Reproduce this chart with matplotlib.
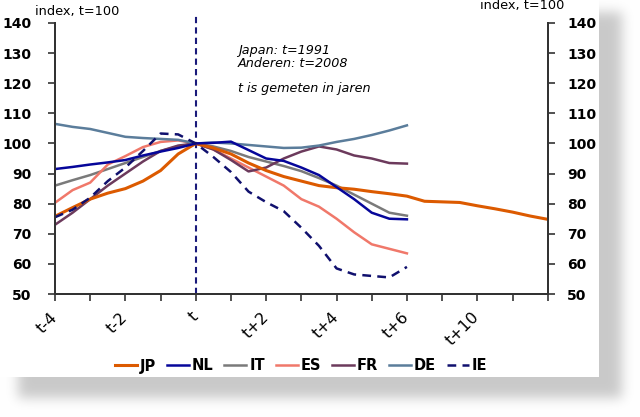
import numpy as np
import matplotlib
matplotlib.use("Agg")
import matplotlib.pyplot as plt
import matplotlib.transforms as mtransforms

# ---- data (x in years relative to t) ----
x_half = [-4, -3.5, -3, -2.5, -2, -1.5, -1, -0.5, 0, 0.5, 1, 1.5, 2, 2.5, 3, 3.5, 4, 4.5, 5, 5.5, 6]
x_jp = x_half + [6.5, 7, 7.5, 8, 8.5, 9, 9.5, 10]

jp = [75.8, 78.7, 81.5, 83.5, 85.0, 87.5, 91.0, 96.5, 100, 98.5, 96.5, 93.5, 91.0, 89.0, 87.5, 86.0,
      85.3, 84.8, 84.0, 83.3, 82.5, 80.8, 80.6, 80.4, 79.3, 78.3, 77.2, 75.9, 74.8]
nl = [91.5, 92.2, 93.0, 93.7, 94.5, 96.0, 97.3, 98.5, 100, 100.2, 100.6, 97.8, 95.0, 94.2, 92.0, 89.5,
      85.5, 81.5, 77.0, 75.0, 74.8]
it = [86.0, 87.8, 89.5, 91.5, 93.5, 95.5, 97.5, 99.0, 100, 99.0, 97.5, 95.5, 94.0, 92.5, 90.8, 88.5,
      86.0, 83.0, 80.0, 77.0, 76.0]
es = [80.3, 84.5, 87.0, 93.0, 95.8, 98.8, 100.5, 101.0, 100, 98.0, 95.0, 92.0, 89.0, 86.0, 81.5, 79.0,
      75.0, 70.5, 66.5, 65.0, 63.5]
fr = [73.0, 77.0, 81.5, 86.0, 90.0, 94.0, 97.5, 99.3, 100, 98.0, 94.5, 90.7, 92.0, 95.0, 97.3, 99.0,
      98.0, 96.0, 95.0, 93.5, 93.3]
de = [106.5, 105.5, 104.8, 103.5, 102.2, 101.8, 101.5, 101.2, 100, 100.3, 100.0, 99.5, 99.0, 98.5, 98.6,
      99.3, 100.5, 101.5, 102.8, 104.3, 106.0]
ie = [75.5, 78.0, 82.0, 87.5, 92.0, 97.5, 103.3, 103.0, 100, 95.5, 90.5, 84.0, 80.5, 77.5, 72.0, 66.0,
      58.5, 56.5, 56.0, 55.5, 59.0]

tick_pos = list(range(-4, 11))
tick_labels = ["t-4", "", "t-2", "", "t", "", "t+2", "", "t+4", "", "t+6", "", "t+10", "", ""]
yticks = [50, 60, 70, 80, 90, 100, 110, 120, 130, 140]

# ---- figure ----
W, H = 640, 417
fig = plt.figure(figsize=(W / 100, H / 100), dpi=100, facecolor="white")

# drop-shadow background decoration
mask = np.zeros((H, W))
mask[12:398, 18:622] = 1.0
sig = 6.0
k = np.exp(-0.5 * (np.arange(-20, 21) / sig) ** 2)
k /= k.sum()
blur = np.apply_along_axis(lambda r: np.convolve(r, k, mode="same"), 1, mask)
blur = np.apply_along_axis(lambda c: np.convolve(c, k, mode="same"), 0, blur)
gray = 1 - 0.21 * blur
gray[0:377, 0:599] = 1.0
img = np.dstack([gray, gray, gray])
fig.figimage(img, 0, 0, origin="upper", zorder=-10)

ax = fig.add_axes([55 / W, 1 - 294 / H, (547.7 - 55) / W, (294 - 23) / H])
ax.set_zorder(1)
ax.patch.set_alpha(0)

colors = {"JP": "#DC5A00", "NL": "#06069A", "IT": "#7A7A7A", "ES": "#F0786A",
          "FR": "#6C3A5C", "DE": "#5B7D9B", "IE": "#10106E"}

ax.plot(x_jp, jp, color=colors["JP"], lw=2.2, label="JP", zorder=5)
ax.plot(x_half, nl, color=colors["NL"], lw=1.8, label="NL", zorder=6)
ax.plot(x_half, it, color=colors["IT"], lw=1.8, label="IT", zorder=4)
ax.plot(x_half, es, color=colors["ES"], lw=1.8, label="ES", zorder=4)
ax.plot(x_half, fr, color=colors["FR"], lw=1.8, label="FR", zorder=4)
ax.plot(x_half, de, color=colors["DE"], lw=1.8, label="DE", zorder=4)
ax.plot(x_half, ie, color=colors["IE"], lw=1.8, ls=(0, (3.5, 2.5)), label="IE", zorder=6)

ax.axvline(0, ymin=0, ymax=1.025, color="#1A1A7A", lw=1.5, ls=(0, (3, 2)), clip_on=False, zorder=3)

ax.set_xlim(-4, 10)
ax.set_ylim(50, 140)
ax.set_xticks(tick_pos)
ax.set_xticklabels(tick_labels, rotation=45, ha="right", va="center",
                   rotation_mode="anchor", fontsize=11.5)
offset = mtransforms.ScaledTranslation(5 / 100, -2 / 100, fig.dpi_scale_trans)
for lbl in ax.get_xticklabels():
    lbl.set_transform(lbl.get_transform() + offset)
ax.set_yticks(yticks)
ax.set_yticklabels([str(v) for v in yticks], fontsize=10, fontweight="bold")

ax2 = ax.twinx()
ax2.set_zorder(2)
ax2.patch.set_alpha(0)
ax2.set_ylim(50, 140)
ax2.set_yticks(yticks)
ax2.set_yticklabels([str(v) for v in yticks], fontsize=10, fontweight="bold")

for a in (ax, ax2):
    a.spines["top"].set_visible(False)
    for s in ("left", "right", "bottom"):
        a.spines[s].set_color("#333333")
        a.spines[s].set_linewidth(1.4)
    a.tick_params(axis="both", direction="out", length=5, width=1.2, color="#333333")
ax.tick_params(axis="x", pad=10)
ax.tick_params(axis="y", pad=12)
ax2.tick_params(axis="y", pad=9)

fig.text(35 / W, 1 - 11 / H, "index, t=100", fontsize=9.3, va="center", ha="left")
fig.text(480 / W, 1 - 5 / H, "index, t=100", fontsize=9.3, va="center", ha="left")

ax.text(238 / W, 1 - 50.7 / H, "Japan: t=1991", transform=fig.transFigure,
        fontsize=9.2, style="italic", va="center", ha="left")
ax.text(238 / W, 1 - 63.3 / H, "Anderen: t=2008", transform=fig.transFigure,
        fontsize=9.2, style="italic", va="center", ha="left")
ax.text(238 / W, 1 - 88.3 / H, "t is gemeten in jaren", transform=fig.transFigure,
        fontsize=9.2, style="italic", va="center", ha="left")

leg = ax.legend(loc="center", bbox_to_anchor=(301 / W, 1 - 366 / H), bbox_transform=fig.transFigure,
                ncol=7, frameon=False, handlelength=1.5, handletextpad=0.2, columnspacing=0.75,
                prop={"size": 10.5, "weight": "bold"})

fig.savefig("out.png", dpi=100, facecolor="white")
